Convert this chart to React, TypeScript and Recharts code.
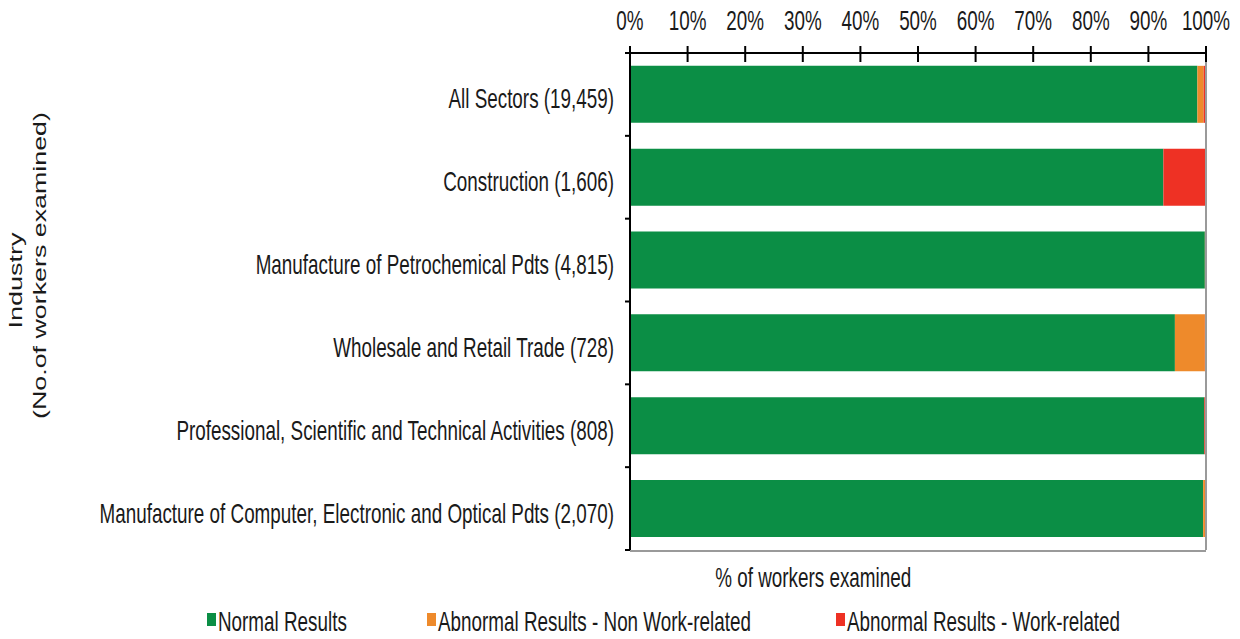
import React from 'react';
import { BarChart, Bar, XAxis, YAxis, ReferenceLine, Legend } from 'recharts';

const categories = [
  'All Sectors (19,459)',
  'Construction (1,606)',
  'Manufacture of Petrochemical Pdts (4,815)',
  'Wholesale and Retail Trade (728)',
  'Professional, Scientific and Technical Activities (808)',
  'Manufacture of Computer, Electronic and Optical Pdts (2,070)',
];
const normalValues = [98.5, 92.6, 99.8, 94.6, 99.7, 99.5];
const nonWorkValues = [1.1, 0, 0.2, 5.2, 0, 0.5];
const workValues = [0.4, 7.4, 0, 0.2, 0.3, 0];
const xTicks = [0, 10, 20, 30, 40, 50, 60, 70, 80, 90, 100];
const seriesNames = ['Normal Results', 'Abnormal Results - Non Work-related', 'Abnormal Results - Work-related'];
const seriesKeys = ['normal', 'nonWork', 'work'];
const seriesColors = ['#0b8e45', '#ee8a2b', '#ee3124'];
const xAxisTitle = '% of workers examined';
const yAxisTitle = ['Industry', '(No.of workers examined)'];

const data = categories.map((c, i) => ({
  name: c,
  normal: normalValues[i],
  nonWork: nonWorkValues[i],
  work: workValues[i],
}));

const W = 1240;
const H = 639;
const MARGIN = { top: 0, right: 34, bottom: 89, left: 0 };
const X_AXIS_H = 53;
const Y_AXIS_W = 630;
const PLOT_H = H - MARGIN.top - MARGIN.bottom - X_AXIS_H;
const PLOT_W = W - MARGIN.left - MARGIN.right - Y_AXIS_W;
const HALF_BAND = PLOT_H / categories.length / 2;
const Y_TICK_MARGIN = 16;
const X_TICK_MARGIN = 23;
const FONT = "'Liberation Sans', Arial, sans-serif";
const NARROW_SCALE = 'scale(0.82,1.2)';
const TEXT = '#1a1a1a';
const LEGEND_X = [207, 427, 836];
const LEGEND_TOP = 604;

function CategoryTick(props: any) {
  const { x, y, payload, index } = props;
  const axisX = x + Y_TICK_MARGIN;
  const last = index === categories.length - 1;
  return (
    <g>
      <line x1={axisX - 5} x2={axisX} y1={y - HALF_BAND} y2={y - HALF_BAND} stroke="#000" strokeWidth={2} />
      {last && (
        <g>
          <line x1={axisX} x2={axisX + PLOT_W} y1={y + HALF_BAND + 1} y2={y + HALF_BAND + 1} stroke="#9a9a9a" strokeWidth={2} />
          <line x1={axisX - 5} x2={axisX} y1={y + HALF_BAND} y2={y + HALF_BAND} stroke="#000" strokeWidth={2} />
          <text
            transform={`translate(${axisX + PLOT_W * 0.318},${y + HALF_BAND + 37}) ${NARROW_SCALE}`}
            textAnchor="middle"
            fontFamily={FONT}
            fontSize={23}
            fill={TEXT}
          >
            {xAxisTitle}
          </text>
        </g>
      )}
      <text
        transform={`translate(${x},${y + 14}) ${NARROW_SCALE}`}
        textAnchor="end"
        fontFamily={FONT}
        fontSize={23}
        fill={TEXT}
      >
        {payload.value}
      </text>
    </g>
  );
}

function PercentTick(props: any) {
  const { x, y, payload } = props;
  const axisY = y + X_TICK_MARGIN;
  return (
    <g>
      <line x1={x} x2={x} y1={axisY - 7} y2={axisY + 9} stroke="#000" strokeWidth={2} />
      <text
        transform={`translate(${x},${axisY - 23}) ${NARROW_SCALE}`}
        textAnchor="middle"
        fontFamily={FONT}
        fontSize={23}
        fill={TEXT}
      >
        {`${payload.value}%`}
      </text>
    </g>
  );
}

function YTitle(props: any) {
  const vb = props.viewBox || { x: 0, y: 0, height: 0 };
  const mid = vb.y + vb.height / 2;
  return (
    <g>
      <text
        transform={`translate(${vb.x + 22},${mid - 21}) rotate(-90) scale(1.5,1)`}
        textAnchor="middle"
        fontFamily={FONT}
        fontSize={18}
        fill={TEXT}
      >
        {yAxisTitle[0]}
      </text>
      <text
        transform={`translate(${vb.x + 46},${mid - 36}) rotate(-90) scale(1.49,1)`}
        textAnchor="middle"
        fontFamily={FONT}
        fontSize={18}
        fill={TEXT}
      >
        {yAxisTitle[1]}
      </text>
    </g>
  );
}

function LegendContent() {
  return (
    <svg width={W} height={H - LEGEND_TOP} style={{ display: 'block', overflow: 'visible' }}>
      {seriesNames.map((n, i) => (
        <g key={n}>
          <rect x={LEGEND_X[i]} y={9} width={9} height={13} fill={seriesColors[i]} />
          <text
            transform={`translate(${LEGEND_X[i] + 11},${27}) ${NARROW_SCALE}`}
            fontFamily={FONT}
            fontSize={23}
            fill={TEXT}
          >
            {n}
          </text>
        </g>
      ))}
    </svg>
  );
}

export default function App() {
  return (
    <div style={{ position: 'absolute', left: 0, top: 0, width: W, height: H, background: '#fff' }}>
      <BarChart width={W} height={H} data={data} layout="vertical" margin={MARGIN} barCategoryGap="15.5%">
        <XAxis
          type="number"
          orientation="top"
          domain={[0, 100]}
          ticks={xTicks}
          height={X_AXIS_H}
          axisLine={{ stroke: '#000', strokeWidth: 2 }}
          tickLine={false}
          tickSize={0}
          tickMargin={X_TICK_MARGIN}
          tick={<PercentTick />}
          interval={0}
        />
        <YAxis
          type="category"
          dataKey="name"
          width={Y_AXIS_W}
          axisLine={{ stroke: '#000', strokeWidth: 2 }}
          tickLine={false}
          tickSize={0}
          tickMargin={Y_TICK_MARGIN}
          tick={<CategoryTick />}
          interval={0}
          label={{ content: <YTitle /> }}
        />
        <ReferenceLine x={100} stroke="#9a9a9a" strokeWidth={2} />
        {seriesKeys.map((k, i) => (
          <Bar key={k} dataKey={k} name={seriesNames[i]} stackId="s" fill={seriesColors[i]} isAnimationActive={false} />
        ))}
        <Legend
          verticalAlign="middle"
          wrapperStyle={{ top: LEGEND_TOP, left: 0, width: W, height: H - LEGEND_TOP, overflow: 'visible' }}
          content={<LegendContent />}
        />
      </BarChart>
    </div>
  );
}
